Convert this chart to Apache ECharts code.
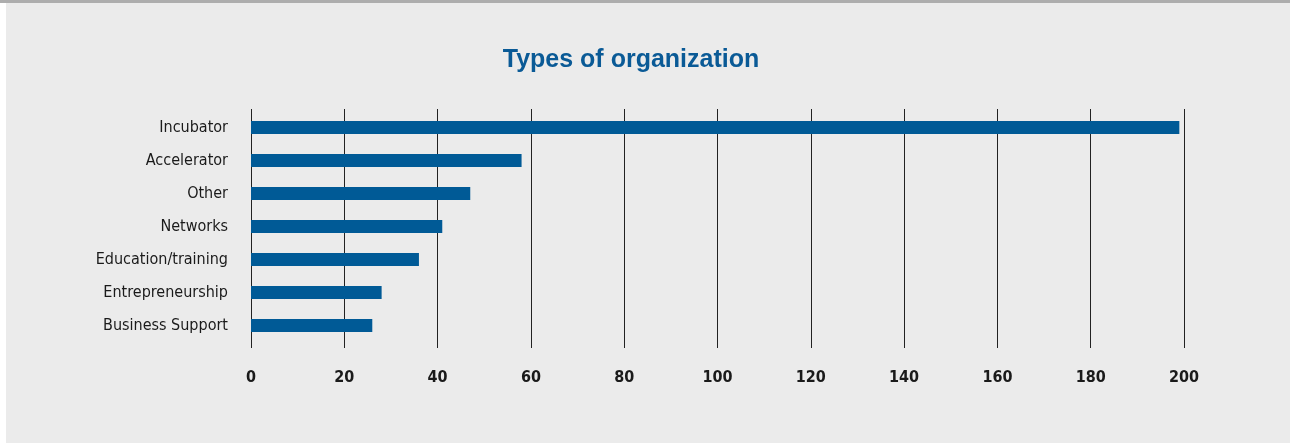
<!DOCTYPE html>
<html>
<head>
<meta charset="utf-8">
<script src="https://cdn.jsdelivr.net/npm/echarts@6/dist/echarts.min.js"></script>
<style>
html,body{margin:0;padding:0;background:#fff;}
#c{width:1290px;height:443px;}
</style>
</head>
<body>
<div id="c"></div>
<script>
const categories = ["Incubator","Accelerator","Other","Networks","Education/training","Entrepreneurship","Business Support"];
const values = [199, 58, 47, 41, 36, 28, 26];
const xTicks = { min: 0, max: 200, interval: 20 };
const titleText = "Types of organization";

const chart = echarts.init(document.getElementById('c'), null, {renderer:'canvas'});
chart.setOption({
  backgroundColor: '#ebebeb',
  animation: false,
  title: {
    text: titleText,
    left: 626, top: 43, textAlign: 'center',
    textStyle: { fontFamily: '"Liberation Sans", Arial, sans-serif', fontWeight: 'bold', fontSize: 25, color: '#0a5a96' }
  },
  graphic: [
    { type: 'rect', left: 0, top: 0, shape: { width: 1290, height: 3 }, style: { fill: '#adadad' }, z: 100 },
    { type: 'rect', left: 0, top: 3, shape: { width: 6, height: 440 }, style: { fill: '#ffffff' }, z: 100 }
  ],
  grid: [
    { left: 251, right: 106, top: 111, height: 231 },
    { left: 251, right: 106, top: 109, height: 239 }
  ],
  xAxis: [
    { gridIndex: 0, type: 'value', min: xTicks.min, max: xTicks.max, interval: xTicks.interval, show: false },
    { gridIndex: 1, type: 'value', min: xTicks.min, max: xTicks.max, interval: xTicks.interval,
      axisLine: { show: false }, axisTick: { show: false },
      splitLine: { show: true, lineStyle: { color: '#222', width: 1 } },
      axisLabel: { margin: 22, fontFamily: '"DejaVu Sans Condensed", sans-serif', fontWeight: 'bold', fontSize: 16, color: '#1a1a1a' } }
  ],
  yAxis: [
    { gridIndex: 0, type: 'category', data: categories, inverse: true,
      axisLine: { show: false }, axisTick: { show: false }, splitLine: { show: false },
      axisLabel: { margin: 23, fontFamily: '"DejaVu Sans Condensed", sans-serif', fontSize: 16, color: '#1a1a1a' } },
    { gridIndex: 1, type: 'category', data: categories, show: false }
  ],
  series: [
    { type: 'bar', xAxisIndex: 0, yAxisIndex: 0, data: values, barWidth: 13,
      itemStyle: { color: '#005a96' }, z: 3 }
  ]
});
</script>
</body>
</html>
